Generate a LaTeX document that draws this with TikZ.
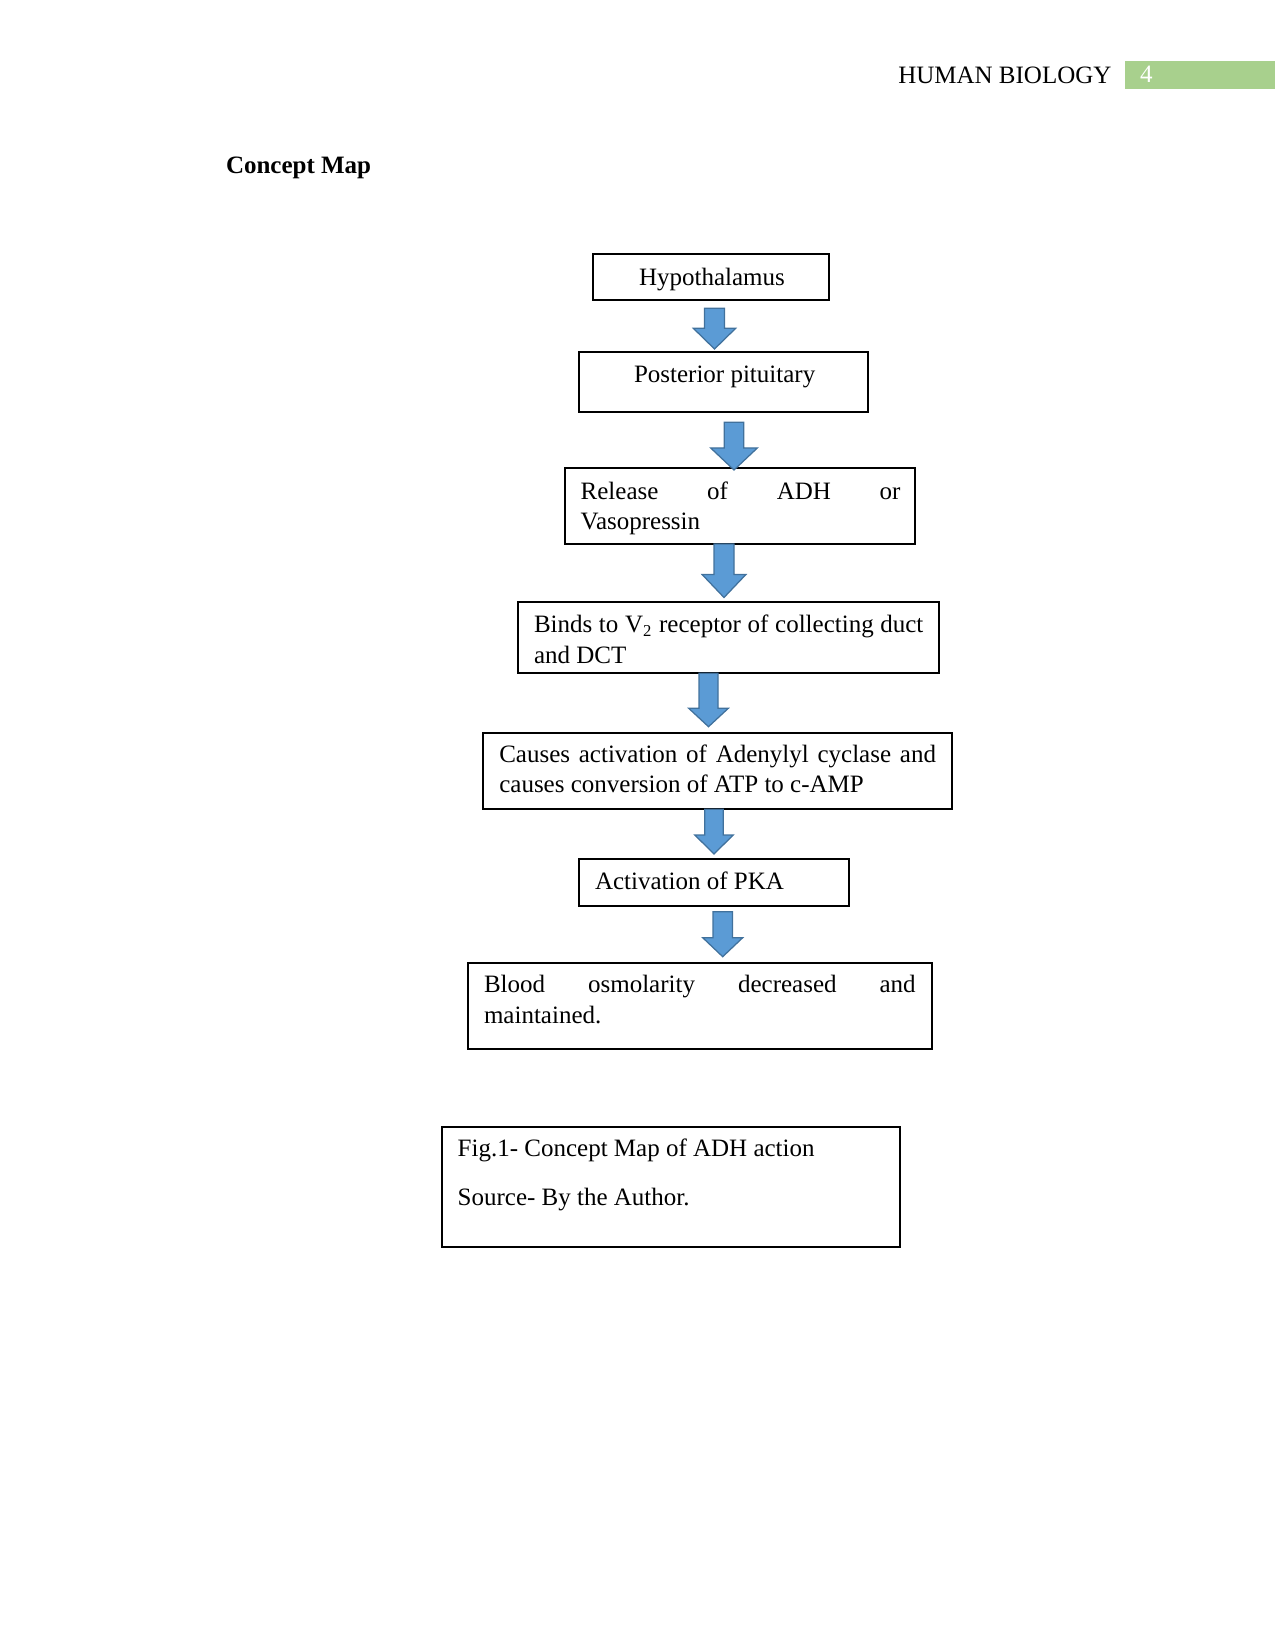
\documentclass[tikz,border=0pt]{standalone}
\usepackage{fontspec}
\setmainfont{Liberation Serif}
\usetikzlibrary{fit}
\definecolor{hdrgreen}{HTML}{A8D08D}
\definecolor{arrfill}{HTML}{5B9BD5}
\definecolor{arrline}{HTML}{41719C}
\tikzset{
  box/.style={draw=black, line width=0.9pt, inner sep=0pt, fill=none},
  txt/.style={inner sep=0pt, outer sep=0pt, anchor=base west, font=\fontsize{12}{14.4}\selectfont},
  blockarr/.style={fill=arrfill, draw=arrline, line width=0.6pt, line join=miter}
}
% cx, top, headstart, tip, shaft half width, head half width
\newcommand{\myblockarrow}[6]{%
  \draw[blockarr] (#1-#5,#2) -- (#1+#5,#2) -- (#1+#5,#3) -- (#1+#6,#3) -- (#1,#4)
    -- (#1-#6,#3) -- (#1-#5,#3) -- cycle;}
\begin{document}
\begin{tikzpicture}[x=0.48pt, y=-0.48pt]
\useasboundingbox (0,0) rectangle (1275,1650);

% header
\fill[hdrgreen] (1125,60.7) rectangle (1275,89);
\node[txt] (hdr) at (898.3,83.3) {HUMAN BIOLOGY};
\node[txt, text=white] (pg) at (1140,82.6) {4};
\node[txt, font=\fontsize{12}{14.4}\selectfont\bfseries] (title) at (226,173.3) {Concept Map};

% boxes
\node[box, fit={(593.3,254) (828.7,300)}] (hyp) {};
\node[box, fit={(579.3,351.7) (868.3,412.3)}] (pit) {};
\node[box, fit={(565,468.3) (915,544)}] (rel) {};
\node[box, fit={(518.3,601.7) (939.3,673.3)}] (bind) {};
\node[box, fit={(483.3,732.7) (951.7,809.3)}] (cause) {};
\node[box, fit={(579.3,859.3) (849.3,906)}] (pka) {};
\node[box, fit={(468.3,962.7) (931.7,1049.3)}] (blood) {};
\node[box, fit={(441.7,1127.3) (900,1246.7)}] (fig) {};

% texts
\node[txt] (thyp) at (639,285.7) {Hypothalamus};
\node[txt] (tpit) at (634,382.7) {Posterior pituitary};
\node[txt] (trel1) at (580.7,499.3) {\makebox[153.5pt][s]{Release of ADH or}};
\node[txt] (trel2) at (580.7,529.3) {Vasopressin};
\node[txt] (tbind1) at (534,632.3) {\makebox[186.9pt][s]{Binds to V\textsubscript{2} receptor of collecting duct}};
\node[txt] (tbind2) at (534,663.3) {and DCT};
\node[txt] (tcause1) at (499.3,762.7) {\makebox[209.6pt][s]{Causes activation of Adenylyl cyclase and}};
\node[txt] (tcause2) at (499.3,792.7) {causes conversion of ATP to c-AMP};
\node[txt] (tpka) at (595,889.3) {Activation of PKA};
\node[txt] (tblood1) at (484,992.7) {\makebox[207.2pt][s]{Blood osmolarity decreased and}};
\node[txt] (tblood2) at (484,1023.3) {maintained.};
\node[txt] (tfig1) at (457.7,1156.7) {Fig.1- Concept Map of ADH action};
\node[txt] (tfig2) at (457.7,1205.7) {Source- By the Author.};

% block arrows
\myblockarrow{714.5}{308.3}{328.3}{349}{10}{21.2}
\myblockarrow{734}{422.3}{448}{470}{9.7}{23.3}
\myblockarrow{724}{544}{574.4}{597.5}{10}{22}
\myblockarrow{708.5}{673.3}{708.3}{726.7}{9.5}{19.8}
\myblockarrow{714}{809.3}{835}{854}{9.2}{19.2}
\myblockarrow{722.7}{911.7}{937.7}{956.7}{9.7}{20}
\end{tikzpicture}
\end{document}
